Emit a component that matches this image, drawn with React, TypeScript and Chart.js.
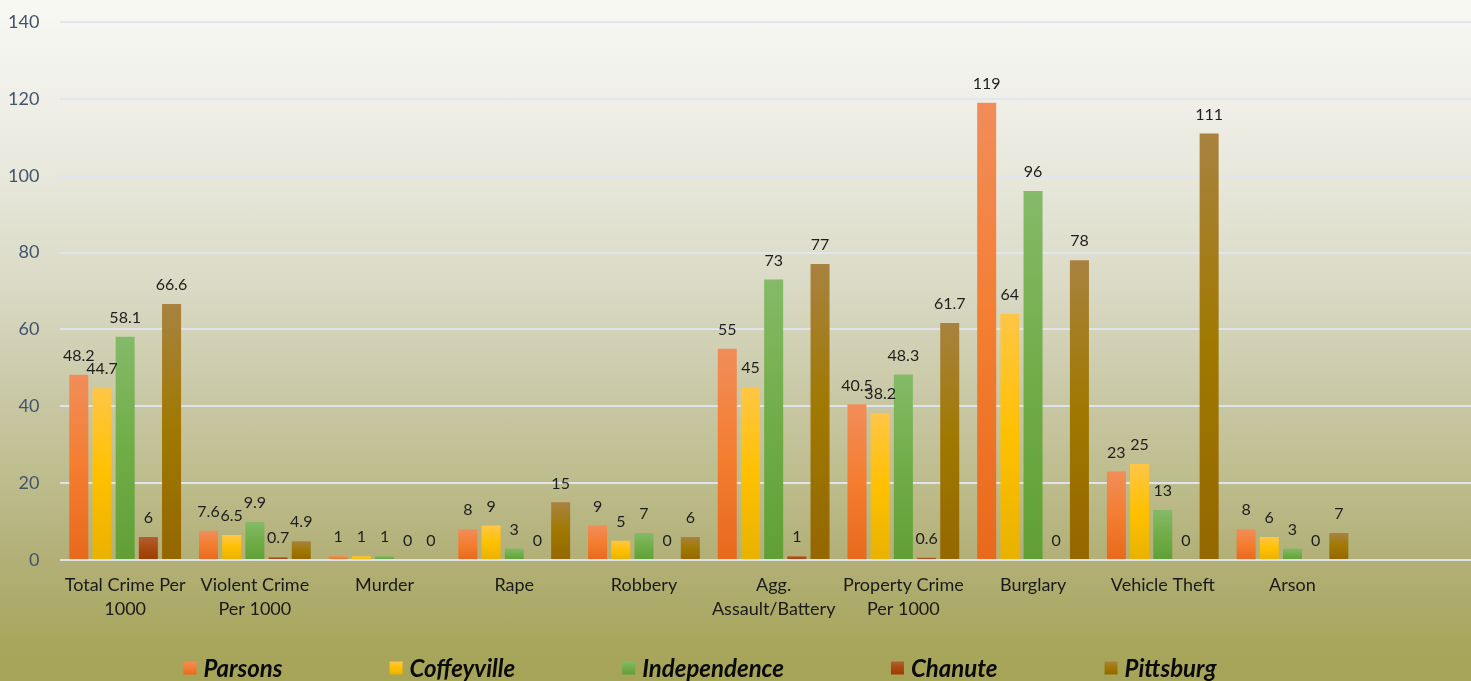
import React, { useEffect, useRef } from "react";
import { Chart, registerables } from "chart.js";

Chart.register(...registerables);

const CATEGORIES: (string | string[])[] = [
  ["Total Crime Per", "1000"],
  ["Violent Crime", "Per 1000"],
  "Murder",
  "Rape",
  "Robbery",
  ["Agg.", "Assault/Battery"],
  ["Property Crime", "Per 1000"],
  "Burglary",
  "Vehicle Theft",
  "Arson",
];

const PARSONS = [48.2, 7.6, 1, 8, 9, 55, 40.5, 119, 23, 8];
const COFFEYVILLE = [44.7, 6.5, 1, 9, 5, 45, 38.2, 64, 25, 6];
const INDEPENDENCE = [58.1, 9.9, 1, 3, 7, 73, 48.3, 96, 13, 3];
const CHANUTE = [6, 0.7, 0, 0, 0, 1, 0.6, 0, 0, 0];
const PITTSBURG = [66.6, 4.9, 0, 15, 6, 77, 61.7, 78, 111, 7];

const SERIES_NAMES = ["Parsons", "Coffeyville", "Independence", "Chanute", "Pittsburg"];
const SERIES_VALUES = [PARSONS, COFFEYVILLE, INDEPENDENCE, CHANUTE, PITTSBURG];
const SERIES_STOPS = [
  ["#F18D5A", "#F47D30", "#E8691C"],
  ["#FFC646", "#FFC000", "#E9B200"],
  ["#84BA68", "#70AD47", "#619F36"],
  ["#B35E34", "#A84A10", "#9E3B00"],
  ["#A8823F", "#A07800", "#946700"],
];

const Y_MIN = 0;
const Y_MAX = 140;
const Y_STEP = 20;

const FONT = "Lato, 'Open Sans', sans-serif";

function gradientFor(ctx: CanvasRenderingContext2D, top: number, bottom: number, stops: string[]) {
  const g = ctx.createLinearGradient(0, top, 0, bottom);
  g.addColorStop(0, stops[0]);
  g.addColorStop(0.5, stops[1]);
  g.addColorStop(1, stops[2]);
  return g;
}

const dataLabelPlugin = {
  id: "dataLabels",
  afterDatasetsDraw(chart: any) {
    const ctx = chart.ctx as CanvasRenderingContext2D;
    ctx.save();
    ctx.font = `16px ${FONT}`;
    ctx.fillStyle = "#1E1E1E";
    ctx.textAlign = "center";
    ctx.textBaseline = "middle";
    chart.data.datasets.forEach((ds: any, di: number) => {
      const meta = chart.getDatasetMeta(di);
      meta.data.forEach((el: any, i: number) => {
        const v = ds.data[i];
        if (v === undefined || v === null) return;
        ctx.fillText(String(v), el.x, el.y - 19);
      });
    });
    ctx.restore();
  },
};

const legendPlugin = {
  id: "customLegend",
  afterDraw(chart: any) {
    const ctx = chart.ctx as CanvasRenderingContext2D;
    const box = 13;
    const gapText = 7;
    const gapItems = 107;
    const centerX = 700;
    const cy = 668;
    ctx.save();
    ctx.font = `italic bold 24px ${FONT}`;
    ctx.textBaseline = "middle";
    ctx.textAlign = "left";
    const widths = SERIES_NAMES.map((n) => ctx.measureText(n).width);
    const total =
      widths.reduce((a, b) => a + b, 0) + SERIES_NAMES.length * (box + gapText) + (SERIES_NAMES.length - 1) * gapItems;
    let x = centerX - total / 2;
    SERIES_NAMES.forEach((name, i) => {
      ctx.fillStyle = gradientFor(ctx, cy - box / 2, cy + box / 2, SERIES_STOPS[i]);
      ctx.fillRect(x, cy - box / 2, box, box);
      x += box + gapText;
      ctx.fillStyle = "#0A0A0A";
      ctx.fillText(name, x, cy + 1);
      x += widths[i] + gapItems;
    });
    ctx.restore();
  },
};

export default function App() {
  const canvasRef = useRef<HTMLCanvasElement | null>(null);

  useEffect(() => {
    if (!canvasRef.current) return;
    const labels = [...CATEGORIES, ""];
    const chart = new Chart(canvasRef.current, {
      type: "bar",
      data: {
        labels,
        datasets: SERIES_NAMES.map((name, si) => ({
          label: name,
          data: SERIES_VALUES[si],
          backgroundColor: (c: any) => {
            const stops = SERIES_STOPS[si];
            const chartObj = c.chart;
            const yScale = chartObj.scales?.y;
            if (!yScale || c.type !== "data" || c.parsed == null) return stops[1];
            const top = yScale.getPixelForValue(c.parsed.y);
            const bottom = yScale.getPixelForValue(0);
            if (!isFinite(top) || !isFinite(bottom) || bottom - top < 1) return stops[1];
            return gradientFor(chartObj.ctx, top, bottom, stops);
          },
          borderWidth: 0,
          categoryPercentage: 0.894,
          barPercentage: 0.82,
        })),
      },
      options: {
        responsive: true,
        maintainAspectRatio: false,
        animation: false,
        events: [],
        layout: { autoPadding: false, padding: { left: 8, top: 22, right: 3, bottom: 47 } },
        plugins: {
          legend: { display: false },
          tooltip: { enabled: false },
          title: { display: false },
        },
        scales: {
          x: {
            grid: { display: false, drawTicks: false },
            border: { display: false },
            ticks: {
              color: "#1A1A1A",
              font: { family: FONT, size: 18, lineHeight: 1.333 },
              padding: 13,
              maxRotation: 0,
              minRotation: 0,
              autoSkip: false,
            },
            afterFit: (scale: any) => {
              scale.paddingLeft = 0;
              scale.paddingRight = 0;
            },
          },
          y: {
            min: Y_MIN,
            max: Y_MAX,
            grid: {
              color: "rgba(224,229,239,0.95)",
              lineWidth: 2,
              drawTicks: true,
              tickLength: 21,
              tickColor: "rgba(0,0,0,0)",
            },
            border: { display: false },
            ticks: {
              stepSize: Y_STEP,
              color: "#44546A",
              font: { family: FONT, size: 18 },
              padding: 0,
            },
            afterFit: (scale: any) => {
              scale.paddingTop = 0;
              scale.paddingBottom = 0;
            },
          },
        },
      },
      plugins: [dataLabelPlugin, legendPlugin],
    });
    return () => chart.destroy();
  }, []);

  return (
    <div
      style={{
        position: "fixed",
        left: 0,
        top: 0,
        width: "1471px",
        height: "681px",
        overflow: "hidden",
        background:
          "linear-gradient(to bottom, #F8F8F4 0%, #EFEFE8 15%, #E4E4D6 30%, #D8D8C2 44%, #C9C8A6 58%, #BEBD8E 70%, #B2B077 82%, #A8A65C 95%, #A6A457 100%)",
      }}
    >
      <div style={{ position: "relative", width: "1490px", height: "681px" }}>
        <canvas ref={canvasRef} />
      </div>
    </div>
  );
}
